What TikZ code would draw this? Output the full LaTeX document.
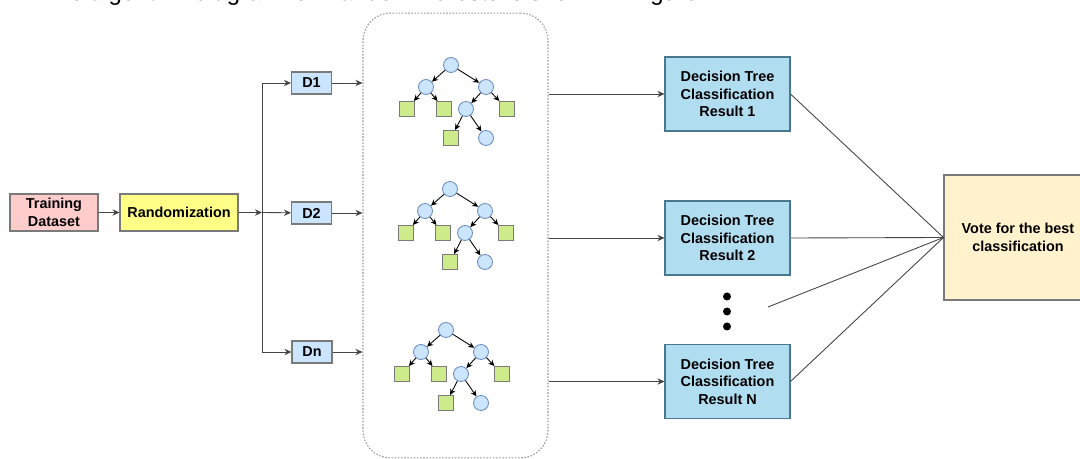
\documentclass[tikz,border=0pt]{standalone}
\usepackage{fontspec}
\setmainfont{Liberation Sans}
\usetikzlibrary{arrows.meta}

\definecolor{trainfill}{HTML}{FFCCCC}
\definecolor{randfill}{HTML}{FFFF88}
\definecolor{dfill}{HTML}{CCE5FF}
\definecolor{resfill}{HTML}{B1DDF0}
\definecolor{resline}{HTML}{10739E}
\definecolor{votefill}{HTML}{FFF2CC}
\definecolor{leaffill}{HTML}{CDEB8B}
\definecolor{nodeline}{HTML}{6C8EBF}
\definecolor{boxline}{HTML}{7A7A7A}
\definecolor{linegray}{HTML}{444444}

\begin{document}
\begin{tikzpicture}[%
    x=0.02cm, y=-0.02cm,
    box/.style={%
        draw=boxline,
        line width=0.6pt,
        font=\bfseries\fontsize{8.2}{10}\selectfont,
        align=center,
        inner sep=1pt,
    },
    dbox/.style={box, fill=dfill, minimum width=0.8cm, minimum height=0.44cm},
    resbox/.style={box, draw=resline!50!gray, fill=resfill,
        minimum width=2.5cm, minimum height=1.48cm},
    conn/.style={draw=linegray, line width=0.5pt,
        -{Stealth[length=4pt,width=3.6pt]}},
    vline/.style={draw=linegray, line width=0.5pt},
    tnode/.style={circle, draw=nodeline, fill=dfill, line width=0.5pt,
        minimum size=0.3cm, inner sep=0pt},
    tleaf/.style={draw=boxline, fill=leaffill, line width=0.5pt,
        minimum size=0.3cm, inner sep=0pt},
    tedge/.style={draw=black, line width=0.5pt,
        -{Stealth[length=3.5pt,width=3.2pt]}},
]
\useasboundingbox (0,0) rectangle (1080,459);
\clip (0,0) rectangle (1080,459);

% caption line, cut at the top
\node[anchor=base west, inner sep=0pt, font=\fontsize{13.6}{15}\selectfont]
    (caption) at (42,1) {The algorithm diagram for Random Forests is shown in Figure 2.};

\node[box, fill=trainfill, minimum width=1.76cm, minimum height=0.74cm]
    (train) at (54,212.5) {Training\\Dataset};
\node[box, fill=randfill, minimum width=2.36cm, minimum height=0.74cm]
    (rand) at (179,212.5) {Randomization};

\node[dbox] (d1) at (311.5,83) {D1};
\node[dbox] (d2) at (311.5,213) {D2};
\node[dbox] (dn) at (312,352) {Dn};

% container of the trees
\node[draw=gray!80, dash pattern=on 0.9pt off 0.9pt, line width=0.6pt,
    rounded corners=0.55cm, minimum width=3.7cm, minimum height=8.9cm]
    (forest) at (455.5,235.5) {};

\coordinate (split) at (262,212.5);
\coordinate (splittop) at (262,83);
\coordinate (splitbot) at (262,352);

\draw[conn] (train) -- (rand);
\draw[conn] (rand) -- (split);
\draw[vline] (splittop) -- (splitbot);
\draw[conn] (splittop) -- (d1);
\draw[conn] (split) -- (d2);
\draw[conn] (splitbot) -- (dn);
\foreach \d in {d1,d2,dn}
    \draw[conn] (\d.east) -- (\d.east -| forest.west);

% the three decision trees
\foreach \t/\ox/\oy in {1/451/65, 2/450/189, 3/446/330} {
    \begin{scope}[shift={(\ox,\oy)}]
        \node[tnode] (t\t-r) at (0,0) {};
        \node[tnode] (t\t-a) at (-25,22) {};
        \node[tnode] (t\t-b) at (35,22) {};
        \node[tleaf] (t\t-aa) at (-44,44) {};
        \node[tleaf] (t\t-ab) at (-7,44) {};
        \node[tnode] (t\t-ba) at (15,44) {};
        \node[tleaf] (t\t-bb) at (56,44) {};
        \node[tleaf] (t\t-baa) at (0,73) {};
        \node[tnode] (t\t-bab) at (35,73) {};
        \draw[tedge] (t\t-r) -- (t\t-a);
        \draw[tedge] (t\t-r) -- (t\t-b);
        \draw[tedge] (t\t-a) -- (t\t-aa);
        \draw[tedge] (t\t-a) -- (t\t-ab);
        \draw[tedge] (t\t-b) -- (t\t-ba);
        \draw[tedge] (t\t-b) -- (t\t-bb);
        \draw[tedge] (t\t-ba) -- (t\t-baa);
        \draw[tedge] (t\t-ba) -- (t\t-bab);
    \end{scope}
}

\node[resbox] (res1) at (727.5,94) {Decision Tree\\Classification\\Result 1};
\node[resbox] (res2) at (727.5,238) {Decision Tree\\Classification\\Result 2};
\node[resbox] (resn) at (727.5,381.5) {Decision Tree\\Classification\\Result N};

\foreach \r in {res1,res2,resn}
    \draw[conn] (forest.east |- \r.west) -- (\r.west);

\foreach \i/\y in {1/296.5, 2/311.5, 3/326.5}
    \node[circle, fill=black, minimum size=0.16cm, inner sep=0pt] (dot\i) at (727,\y) {};

\node[box, fill=votefill, minimum width=2.96cm, minimum height=2.5cm]
    (vote) at (1018,237.5) {Vote for the best\\classification};

\coordinate (dotsend) at (768,307);
\foreach \r in {res1.east,res2.east,dotsend,resn.east}
    \draw[vline] (\r) -- (vote.west);
\end{tikzpicture}
\end{document}
